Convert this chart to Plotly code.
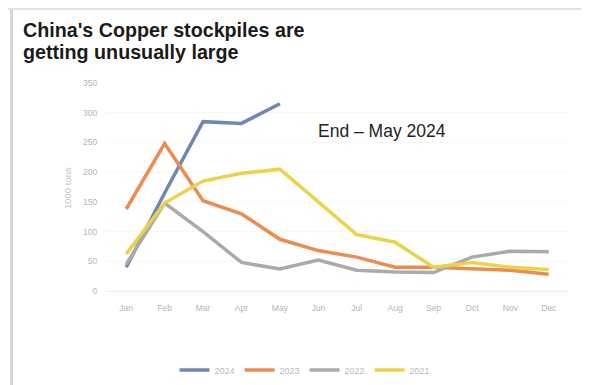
import plotly.graph_objects as go

months = ["Jan", "Feb", "Mar", "Apr", "May", "Jun", "Jul", "Aug", "Sep", "Oct", "Nov", "Dec"]
y2024 = [40, 165, 285, 282, 315]
y2023 = [138, 248, 152, 130, 87, 68, 57, 40, 40, 38, 35, 28]
y2022 = [45, 148, 100, 48, 37, 52, 35, 32, 31, 57, 67, 66]
y2021 = [62, 148, 185, 198, 205, 150, 95, 82, 40, 48, 40, 36]
yticks = [0, 50, 100, 150, 200, 250, 300, 350]

OFF = 8  # page body margin
W, H = 589 - OFF, 385 - OFF
L, R, T, B = 99, 21, 75, 94
pw, ph = W - L - R, H - T - B

def px(x):
    return (x - OFF - L) / pw

def py(y):
    return (H - B - (y - OFF)) / ph

fig = go.Figure()
series = [("2024", y2024, "#7086b3"), ("2023", y2023, "#eb8c52"),
          ("2022", y2022, "#aaaaaa"), ("2021", y2021, "#ecd24a")]
for name, ys, col in series:
    fig.add_trace(go.Scatter(x=months[:len(ys)], y=ys, mode="lines", name=name,
                             line=dict(color=col, width=3.5)))

fig.update_layout(
    width=W, height=H,
    margin=dict(l=L, r=R, t=T, b=B, autoexpand=False),
    paper_bgcolor="white", plot_bgcolor="white",
    font=dict(family="Liberation Sans, Arial, sans-serif"),
    showlegend=True,
    legend=dict(orientation="h", xref="container", yref="container",
                x=(305 - OFF) / W, xanchor="center",
                y=1 - (370 - OFF) / H, yanchor="middle",
                font=dict(size=9, color="#b8b8b8")),
    xaxis=dict(type="category", categoryorder="array", categoryarray=months,
               range=[-0.5, 11.5], showgrid=False, zeroline=False,
               showline=True, linecolor="#ececec", linewidth=1,
               tickfont=dict(size=8.5, color="#b5b5b5"),
               ticks="outside", ticklen=9, tickcolor="rgba(0,0,0,0)"),
    yaxis=dict(range=[0, 350], tickvals=yticks, showgrid=True, gridcolor="#f7f7f7",
               zeroline=False, showline=False,
               tickfont=dict(size=8.5, color="#b5b5b5"),
               ticks="outside", ticklen=7, tickcolor="rgba(0,0,0,0)"),
)

title_font = dict(size=19.7, color="#1a1a1a", family="Liberation Sans, Arial, sans-serif")
fig.add_annotation(xref="paper", yref="paper", x=px(20.5), y=py(30), xanchor="left", yanchor="middle",
                   text="<b>China's Copper stockpiles are</b>", showarrow=False, font=title_font)
fig.add_annotation(xref="paper", yref="paper", x=px(20.5), y=py(52.5), xanchor="left", yanchor="middle",
                   text="<b>getting unusually large</b>", showarrow=False, font=title_font)
fig.add_annotation(xref="paper", yref="paper", x=px(316), y=py(130.5), xanchor="left", yanchor="middle",
                   text="End – May 2024", showarrow=False,
                   font=dict(size=17.5, color="#222222", family="Liberation Sans, Arial, sans-serif"))
fig.add_annotation(xref="paper", yref="paper", x=px(67), y=py(188), xanchor="center", yanchor="middle",
                   text="1000 tons", textangle=-90, showarrow=False,
                   font=dict(size=9.5, color="#c4c4c4", family="Liberation Sans, Arial, sans-serif"))

# left frame of the screenshot
fig.add_shape(type="line", xref="paper", yref="paper", x0=px(11.5), x1=px(11.5), y0=py(8), y1=py(385),
              line=dict(color="#d6d6d6", width=3))
fig.add_shape(type="line", xref="paper", yref="paper", x0=px(8), x1=px(589), y0=py(9), y1=py(9),
              line=dict(color="#e2e2e2", width=2))

fig.write_html("out.html")
